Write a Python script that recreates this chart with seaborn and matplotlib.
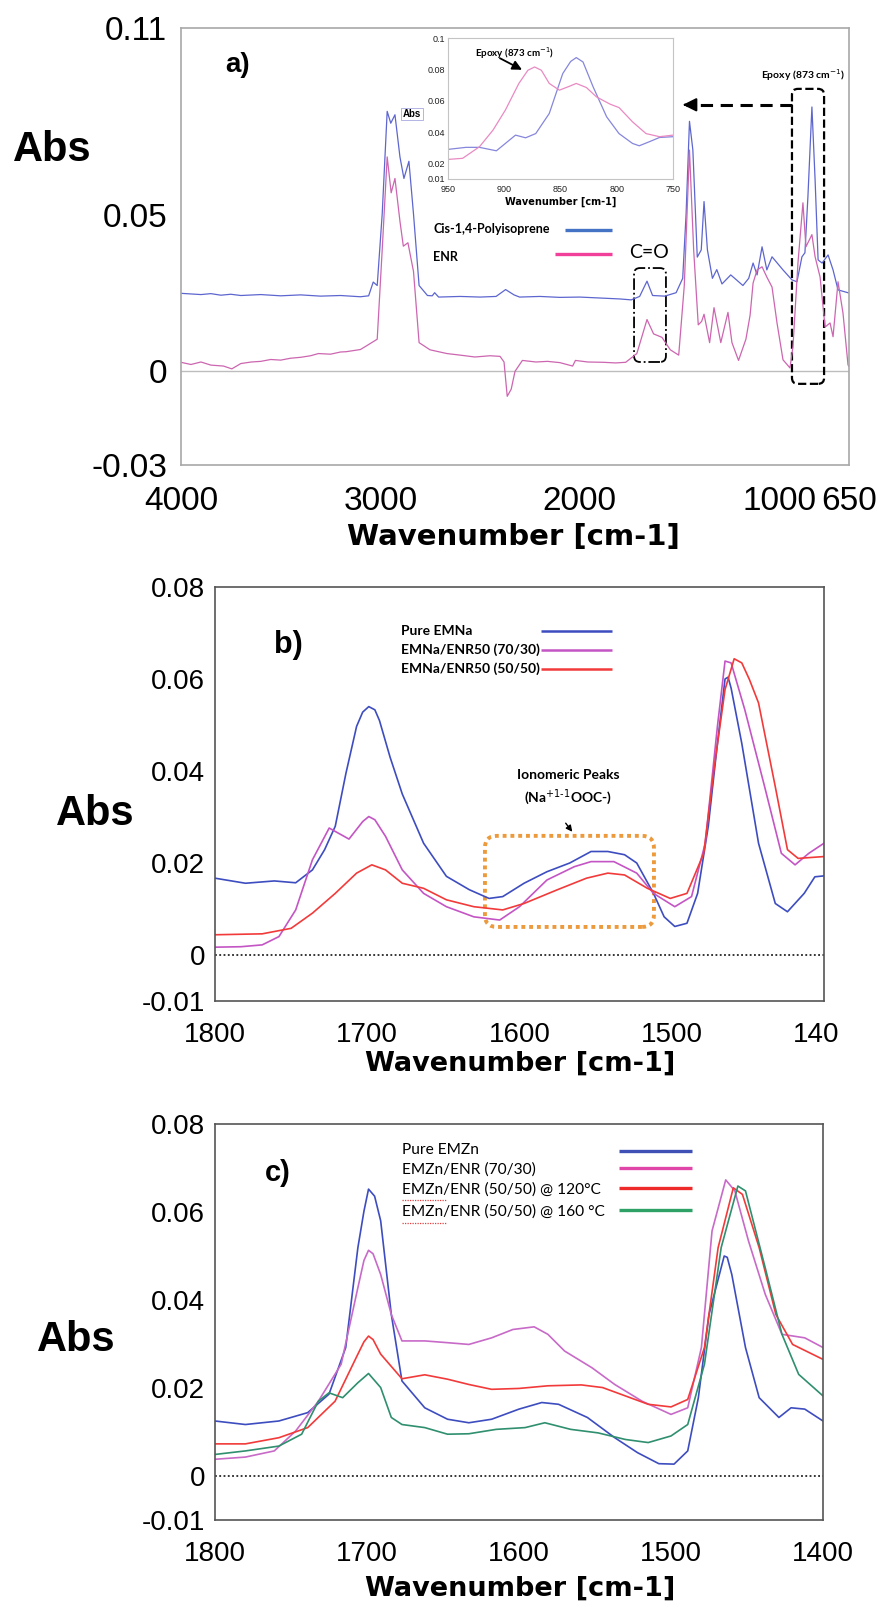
import numpy as np
import pandas as pd
import matplotlib
matplotlib.use("Agg")
import matplotlib.pyplot as plt
import matplotlib.transforms as mtransforms
import seaborn as sns
from matplotlib.lines import Line2D
from matplotlib.patches import FancyBboxPatch

W, H = 876, 1604

# ---------------- panel a : full spectra ----------------
a_wn_cis = [4000, 3900, 3850, 3800, 3750, 3700, 3600, 3500, 3400, 3300, 3200, 3100, 3059, 3036,
            3016, 2991, 2966, 2948, 2927, 2902, 2882, 2857, 2834, 2806, 2764, 2740, 2728, 2708,
            2600, 2500, 2420, 2372, 2330, 2302, 2200, 2100, 2000, 1900, 1800, 1742, 1700, 1663,
            1635, 1574, 1517, 1484, 1467, 1450, 1433, 1411, 1391, 1377, 1360, 1335, 1313, 1287,
            1243, 1182, 1153, 1131, 1111, 1086, 1062, 1036, 981, 936, 911, 886, 871, 856, 836,
            820, 805, 785, 755, 730, 705, 650]
a_abs_cis = [0.0250, 0.0246, 0.0249, 0.0244, 0.0247, 0.0243, 0.0246, 0.0242, 0.0245, 0.0241, 0.0243,
             0.0239, 0.0242, 0.0286, 0.0275, 0.0504, 0.0833, 0.0795, 0.0822, 0.0687, 0.0618, 0.0673,
             0.0504, 0.0275, 0.0243, 0.0242, 0.0252, 0.0238, 0.0240, 0.0238, 0.0240, 0.0262, 0.0245,
             0.0238, 0.0240, 0.0237, 0.0238, 0.0235, 0.0232, 0.0229, 0.0240, 0.0289, 0.0243, 0.0241,
             0.0252, 0.0298, 0.0504, 0.0801, 0.0709, 0.0366, 0.0389, 0.0544, 0.0389, 0.0298, 0.0326,
             0.0280, 0.0309, 0.0275, 0.0298, 0.0347, 0.0309, 0.0399, 0.0325, 0.0367, 0.0325, 0.0293,
             0.0287, 0.0367, 0.0380, 0.0560, 0.0847, 0.0613, 0.0357, 0.0347, 0.0373, 0.0325, 0.0261,
             0.0251]
a_wn_enr = [4000, 3950, 3900, 3850, 3787, 3745, 3700, 3647, 3600, 3550, 3500, 3451, 3400, 3350,
            3311, 3250, 3200, 3171, 3100, 3059, 3016, 2991, 2966, 2946, 2927, 2902, 2885, 2862,
            2834, 2806, 2751, 2666, 2600, 2526, 2450, 2400, 2380, 2364, 2344, 2325, 2288, 2220,
            2162, 2100, 2036, 2022, 1960, 1882, 1820, 1770, 1714, 1663, 1630, 1588, 1546, 1504,
            1476, 1450, 1429, 1406, 1389, 1377, 1349, 1327, 1293, 1257, 1237, 1204, 1167, 1146,
            1131, 1111, 1086, 1062, 1036, 1011, 981, 946, 931, 906, 881, 866, 856, 836, 820, 795,
            770, 745, 730, 705, 680, 655, 650]
a_abs_enr = [0.0029, 0.0022, 0.0030, 0.0020, 0.0017, 0.0008, 0.0025, 0.0030, 0.0032, 0.0038, 0.0036,
             0.0042, 0.0045, 0.0050, 0.0057, 0.0055, 0.0062, 0.0063, 0.0070, 0.0086, 0.0103, 0.0389,
             0.0687, 0.0572, 0.0618, 0.0481, 0.0401, 0.0412, 0.0320, 0.0092, 0.0069, 0.0057, 0.0052,
             0.0046, 0.0050, 0.0048, 0.0030, -0.0080, -0.0057, 0.0000, 0.0035, 0.0030, 0.0032, 0.0028,
             0.0017, 0.0035, 0.0030, 0.0029, 0.0027, 0.0029, 0.0057, 0.0166, 0.0120, 0.0109, 0.0069,
             0.0052, 0.0275, 0.0709, 0.0389, 0.0149, 0.0160, 0.0183, 0.0092, 0.0204, 0.0092, 0.0189,
             0.0092, 0.0035, 0.0103, 0.0180, 0.0283, 0.0325, 0.0335, 0.0302, 0.0270, 0.0155, 0.0037,
             0.0011, 0.0079, 0.0347, 0.0540, 0.0399, 0.0412, 0.0438, 0.0367, 0.0302, 0.0142, 0.0155,
             0.0111, 0.0287, 0.0186, 0.0021, 0.0015]

# inset (epoxy region)
in_wn_cis = [950, 934, 922, 907, 899, 890, 881, 872, 860, 848, 841, 836, 830, 821, 809, 798, 786,
             780, 771, 762, 750]
in_abs_cis = [0.0289, 0.0302, 0.0302, 0.0280, 0.0327, 0.0380, 0.0363, 0.0390, 0.0518, 0.0773, 0.0850,
              0.0875, 0.0847, 0.0688, 0.0497, 0.0390, 0.0327, 0.0312, 0.0338, 0.0365, 0.0370]
in_wn_enr = [950, 937, 922, 910, 899, 887, 879, 873, 867, 860, 851, 842, 836, 827, 818, 806, 798,
             786, 774, 762, 750]
in_abs_enr = [0.0225, 0.0232, 0.0306, 0.0412, 0.0540, 0.0710, 0.0794, 0.0815, 0.0794, 0.0710, 0.0667,
              0.0692, 0.0710, 0.0684, 0.0624, 0.0578, 0.0556, 0.0465, 0.0390, 0.0370, 0.0380]

# ---------------- panel b : EMNa ----------------
b_wn_pure = [1800, 1780, 1761, 1747, 1736, 1728, 1721, 1714, 1707, 1703, 1699, 1695, 1692, 1685,
             1677, 1663, 1648, 1633, 1620, 1611, 1597, 1582, 1567, 1553, 1542, 1531, 1523, 1512,
             1505, 1498, 1490, 1483, 1476, 1470, 1465, 1463, 1461, 1454, 1443, 1432, 1424, 1413,
             1406, 1400]
b_abs_pure = [0.0167, 0.0156, 0.0161, 0.0157, 0.0185, 0.0229, 0.0280, 0.0395, 0.0497, 0.0528, 0.0540,
              0.0533, 0.0510, 0.0430, 0.0350, 0.0243, 0.0171, 0.0142, 0.0123, 0.0127, 0.0156, 0.0181,
              0.0200, 0.0225, 0.0225, 0.0218, 0.0200, 0.0134, 0.0083, 0.0062, 0.0069, 0.0134, 0.0280,
              0.0460, 0.0600, 0.0604, 0.0580, 0.0460, 0.0243, 0.0112, 0.0094, 0.0134, 0.0170, 0.0172]
b_wn_7030 = [1800, 1783, 1769, 1758, 1747, 1736, 1725, 1712, 1703, 1699, 1695, 1688, 1677, 1663,
             1648, 1630, 1613, 1600, 1582, 1564, 1553, 1538, 1523, 1512, 1498, 1487, 1478, 1470,
             1465, 1461, 1452, 1439, 1428, 1419, 1410, 1400]
b_abs_7030 = [0.0017, 0.0018, 0.0022, 0.0040, 0.0098, 0.0207, 0.0276, 0.0252, 0.0290, 0.0301, 0.0294,
              0.0258, 0.0185, 0.0134, 0.0105, 0.0083, 0.0076, 0.0105, 0.0163, 0.0192, 0.0203, 0.0203,
              0.0178, 0.0134, 0.0105, 0.0127, 0.0243, 0.0497, 0.0639, 0.0635, 0.0533, 0.0366, 0.0221,
              0.0196, 0.0221, 0.0243]
b_wn_5050 = [1800, 1769, 1750, 1736, 1721, 1707, 1697, 1688, 1677, 1663, 1648, 1630, 1611, 1597,
             1575, 1556, 1542, 1531, 1516, 1501, 1490, 1479, 1472, 1465, 1459, 1454, 1449, 1443,
             1432, 1424, 1417, 1400]
b_abs_5050 = [0.0044, 0.0046, 0.0058, 0.0091, 0.0134, 0.0178, 0.0196, 0.0185, 0.0156, 0.0145, 0.0120,
              0.0105, 0.0098, 0.0112, 0.0142, 0.0167, 0.0178, 0.0174, 0.0145, 0.0123, 0.0134, 0.0221,
              0.0410, 0.0577, 0.0644, 0.0635, 0.0599, 0.0548, 0.0366, 0.0229, 0.0210, 0.0214]

# ---------------- panel c : EMZn ----------------
c_wn_pure = [1800, 1780, 1758, 1739, 1725, 1714, 1706, 1702, 1699, 1695, 1691, 1684, 1677, 1662,
             1647, 1633, 1618, 1600, 1585, 1574, 1555, 1537, 1522, 1508, 1498, 1489, 1482, 1475,
             1465, 1463, 1460, 1451, 1442, 1429, 1421, 1412, 1400]
c_abs_pure = [0.0125, 0.0117, 0.0125, 0.0144, 0.0186, 0.0292, 0.0519, 0.0602, 0.0652, 0.0636, 0.0580,
              0.0367, 0.0216, 0.0155, 0.0129, 0.0121, 0.0129, 0.0152, 0.0167, 0.0163, 0.0133, 0.0087,
              0.0053, 0.0028, 0.0027, 0.0057, 0.0178, 0.0367, 0.0500, 0.0497, 0.0458, 0.0292, 0.0178,
              0.0133, 0.0155, 0.0152, 0.0125]
c_wn_7030 = [1800, 1780, 1761, 1747, 1732, 1717, 1706, 1702, 1699, 1696, 1691, 1684, 1677, 1662,
             1647, 1633, 1618, 1604, 1590, 1581, 1570, 1552, 1537, 1519, 1500, 1489, 1480, 1473,
             1464, 1458, 1449, 1438, 1427, 1412, 1400]
c_abs_7030 = [0.0038, 0.0043, 0.0057, 0.0102, 0.0170, 0.0254, 0.0428, 0.0490, 0.0513, 0.0505, 0.0458,
              0.0367, 0.0307, 0.0307, 0.0303, 0.0299, 0.0314, 0.0333, 0.0339, 0.0322, 0.0284, 0.0246,
              0.0208, 0.0170, 0.0140, 0.0155, 0.0292, 0.0557, 0.0673, 0.0648, 0.0534, 0.0413, 0.0322,
              0.0314, 0.0292]
c_wn_120 = [1800, 1780, 1758, 1739, 1721, 1706, 1702, 1699, 1696, 1691, 1677, 1662, 1647, 1633,
            1618, 1600, 1581, 1559, 1545, 1530, 1515, 1500, 1489, 1478, 1469, 1459, 1453, 1442,
            1431, 1420, 1400]
c_abs_120 = [0.0073, 0.0073, 0.0087, 0.0110, 0.0170, 0.0277, 0.0305, 0.0318, 0.0310, 0.0277, 0.0221,
             0.0230, 0.0220, 0.0208, 0.0197, 0.0199, 0.0205, 0.0207, 0.0201, 0.0182, 0.0163, 0.0157,
             0.0174, 0.0292, 0.0519, 0.0655, 0.0640, 0.0519, 0.0367, 0.0299, 0.0265]
c_wn_160 = [1800, 1780, 1758, 1743, 1732, 1725, 1716, 1706, 1699, 1691, 1684, 1677, 1662, 1647,
            1633, 1615, 1596, 1583, 1566, 1548, 1530, 1515, 1500, 1489, 1478, 1467, 1456, 1451,
            1438, 1427, 1416, 1400]
c_abs_160 = [0.0049, 0.0057, 0.0068, 0.0095, 0.0170, 0.0189, 0.0178, 0.0212, 0.0233, 0.0201, 0.0133,
             0.0117, 0.0110, 0.0095, 0.0096, 0.0106, 0.0110, 0.0121, 0.0106, 0.0098, 0.0083, 0.0076,
             0.0091, 0.0117, 0.0254, 0.0519, 0.0659, 0.0648, 0.0473, 0.0322, 0.0231, 0.0182]


def long_df(series):
    frames = [pd.DataFrame({"wn": w, "abs": a, "series": name}) for name, w, a in series]
    return pd.concat(frames, ignore_index=True)


def rect(l, t, r, b):
    return [l / W, 1 - b / H, (r - l) / W, (b - t) / H]


def ftext(x, y, s, **kw):
    kw.setdefault("ha", "center")
    kw.setdefault("va", "center")
    kw.setdefault("color", "black")
    return fig.text(x / W, 1 - y / H, s, **kw)


def fline(x0, x1, y, color, lw=2.2, ls="-"):
    fig.add_artist(Line2D([x0 / W, x1 / W], [1 - y / H, 1 - y / H], transform=fig.transFigure,
                          color=color, lw=lw, ls=ls, solid_capstyle="butt"))


def hide_end_ticks(axis, values):
    for tick in axis.get_major_ticks():
        if np.isclose(tick.get_loc(), values).any():
            tick.tick1line.set_visible(False)
            tick.tick2line.set_visible(False)


def round_box(ax, x0, x1, y0, y1, r_px, xunit_px, yunit_px, **kw):
    # rounded rectangle in data coords, corners kept circular in pixels
    box = FancyBboxPatch((min(x0, x1), y0), abs(x1 - x0), y1 - y0,
                         boxstyle=f"round,pad=0,rounding_size={r_px * xunit_px}",
                         mutation_aspect=yunit_px / xunit_px, fill=False, **kw)
    ax.add_patch(box)


sns.set_style("white")
plt.rcParams["font.family"] = ["Liberation Sans", "DejaVu Sans"]
plt.rcParams["mathtext.fontset"] = "dejavusans"
plt.rcParams["text.color"] = "black"

fig = plt.figure(figsize=(W / 100, H / 100), dpi=100)
NARROW = ["Liberation Sans Narrow", "Liberation Sans"]
WAVE_FONT = ["DejaVu Sans"]
CAL = ["Lato", "Liberation Sans"]

# ================= panel a =================
ax = fig.add_axes(rect(181, 28, 849, 465))
df_a = long_df([("cis", a_wn_cis, a_abs_cis), ("enr", a_wn_enr, a_abs_enr)])
sns.lineplot(data=df_a, x="wn", y="abs", hue="series", palette={"cis": "#5d66cf", "enr": "#cc66b0"},
             linewidth=0.9, legend=False, ax=ax)
ax.axhline(0, color="#bdbdbd", lw=1.0, zorder=0)
ax.set_xlim(4000, 650)
ax.set_ylim(-0.03, 0.11)
ax.set_xticks([4000, 3000, 2000, 1000, 650])
ax.set_xticklabels(["4000", "3000", "2000", "1000", "650"])
ax.set_xticks([3500, 2500, 1500], minor=True)
ax.set_yticks([0.11, 0.1, 0.05, 0, -0.03])
ax.set_yticklabels(["0.11", "", "0.05", "0", "-0.03"])
ax.set_yticks([0.075, 0.025, -0.025], minor=True)
ax.set_xlabel("")
ax.set_ylabel("")
for sp in ax.spines.values():
    sp.set_color("#a8a8a8")
    sp.set_linewidth(1.2)
ax.tick_params(which="both", direction="in", color="#8a8a8a", width=1.1, top=False, right=False,
               labelcolor="black")
ax.tick_params(which="major", length=15)
ax.tick_params(which="minor", length=8.5)
ax.tick_params(axis="x", which="major", labelsize=24, pad=15)
ax.tick_params(axis="y", which="major", labelsize=24, pad=10)
for lbl in ax.get_xticklabels() + ax.get_yticklabels():
    lbl.set_fontfamily(NARROW)
hide_end_ticks(ax.xaxis, [4000, 650])
hide_end_ticks(ax.yaxis, [0.11, -0.03])

ftext(52, 150, "Abs", fontsize=30, fontweight="bold")
ftext(513, 537, "Wavenumber [cm-1]", fontsize=21, fontweight="bold", family=WAVE_FONT)
ftext(238, 65, "a)", fontsize=20, fontweight="bold")

# C=O and epoxy boxes
xu_a, yu_a = 3350 / 668, 0.14 / 437
round_box(ax, 1568, 1728, 0.003, 0.0331, 6, xu_a, yu_a, ls="-.", lw=1.3, ec="black")
round_box(ax, 775, 936, -0.004, 0.0905, 6, xu_a, yu_a, ls="--", lw=1.6, ec="black")
ftext(649, 252, "C=O", fontsize=14, family=CAL)
ftext(803, 75, "Epoxy (873 cm$^{-1}$)", fontsize=7.5, fontweight="bold", family=CAL)
ax.plot([936, 1465], [0.0854, 0.0854], color="black", ls=(0, (4, 2.5)), lw=2.2)
ax.annotate("", xy=(1497, 0.0854), xytext=(1455, 0.0854),
            arrowprops=dict(arrowstyle="-|>", color="black", lw=1.5, mutation_scale=20))

# legend a
ftext(433, 229, "Cis-1,4-Polyisoprene", fontsize=9, fontweight="bold", family=CAL, ha="left")
fline(565, 612, 230, "#4472c4", lw=2.4)
ftext(433, 257, "ENR", fontsize=9, fontweight="bold", family=CAL, ha="left")
fline(555, 612, 254, "#f0409a", lw=2.4)

# inset
axi = fig.add_axes(rect(448, 38, 673, 179))
df_in = long_df([("cis", in_wn_cis, in_abs_cis), ("enr", in_wn_enr, in_abs_enr)])
sns.lineplot(data=df_in, x="wn", y="abs", hue="series", palette={"cis": "#8686dc", "enr": "#e98ac2"},
             linewidth=0.9, legend=False, ax=axi)
axi.set_xlim(950, 750)
axi.set_ylim(0.01, 0.1)
axi.set_xticks([950, 900, 850, 800, 750])
axi.set_xticks([925, 875, 825, 775], minor=True)
axi.set_yticks([0.1, 0.08, 0.06, 0.04, 0.02, 0.01])
axi.set_yticklabels(["0.1", "0.08", "0.06", "0.04", "0.02", "0.01"])
axi.set_yticks([0.09, 0.07, 0.05, 0.03], minor=True)
axi.set_xlabel("")
axi.set_ylabel("")
for sp in axi.spines.values():
    sp.set_color("#c4c4c4")
    sp.set_linewidth(0.8)
axi.tick_params(which="both", direction="in", color="#b0b0b0", width=0.7, length=2.5,
                labelsize=6.5, labelcolor="#222222")
axi.tick_params(axis="x", pad=4)
axi.tick_params(axis="y", pad=2)
ftext(561, 202, "Wavenumber [cm-1]", fontsize=7, fontweight="bold", family=WAVE_FONT)
ftext(412, 114, "Abs", fontsize=7, fontweight="bold",
      bbox=dict(boxstyle="square,pad=0.15", fc="white", ec="#a8a8e0", lw=0.6))
ftext(514, 53, "Epoxy (873 cm$^{-1}$)", fontsize=7, fontweight="bold", family=CAL)
axi.annotate("", xy=(882, 0.0789), xytext=(906, 0.0879),
             arrowprops=dict(arrowstyle="-|>", color="black", lw=1.3, mutation_scale=14))


def style_panel(ax):
    ax.set_xlim(1800, 1400)
    ax.set_ylim(-0.01, 0.08)
    ax.axhline(0, color="black", ls=(0, (1.2, 1.6)), lw=1.1, zorder=0)
    ax.set_xticks([1800, 1700, 1600, 1500, 1400])
    ax.set_xticks([1750, 1650, 1550, 1450], minor=True)
    ax.set_yticks([0.08, 0.06, 0.04, 0.02, 0, -0.01])
    ax.set_yticklabels(["0.08", "0.06", "0.04", "0.02", "0", "-0.01"])
    ax.set_yticks([0.07, 0.05, 0.03, 0.01], minor=True)
    ax.set_xlabel("")
    ax.set_ylabel("")
    for sp in ax.spines.values():
        sp.set_color("#555555")
        sp.set_linewidth(1.2)
    ax.tick_params(which="both", direction="in", color="#555555", width=1.1, top=False, right=False,
                   labelcolor="black")
    ax.tick_params(which="major", length=13.5)
    ax.tick_params(which="minor", length=8.5)
    ax.tick_params(axis="x", which="major", labelsize=20, pad=15)
    ax.tick_params(axis="y", which="major", labelsize=20, pad=7)
    hide_end_ticks(ax.xaxis, [1800, 1400])
    hide_end_ticks(ax.yaxis, [0.08, -0.01])


# ================= panel b =================
axb = fig.add_axes(rect(215, 587, 824, 1001))
df_b = long_df([("pure", b_wn_pure, b_abs_pure), ("7030", b_wn_7030, b_abs_7030),
                ("5050", b_wn_5050, b_abs_5050)])
sns.lineplot(data=df_b, x="wn", y="abs", hue="series",
             palette={"pure": "#3d4dbf", "7030": "#c455c4", "5050": "#f23a3a"},
             linewidth=1.2, legend=False, ax=axb)
style_panel(axb)
axb.set_xticklabels(["1800", "1700", "1600", "1500", "140"])
# the last label is cut in the original; nudge it left like "1400" minus its last digit
last = axb.get_xticklabels()[-1]
last.set_transform(last.get_transform() + mtransforms.ScaledTranslation(-8 / 100, 0, fig.dpi_scale_trans))
ftext(95, 814, "Abs", fontsize=30, fontweight="bold")
ftext(520, 1064, "Wavenumber [cm-1]", fontsize=19.5, fontweight="bold", family=WAVE_FONT)
ftext(288, 645, "b)", fontsize=22, fontweight="bold")

leg_b = [("Pure EMNa", "#3d4dbf", 631), ("EMNa/ENR50 (70/30)", "#c455c4", 650),
         ("EMNa/ENR50 (50/50)", "#f23a3a", 669)]
for txt, col, y in leg_b:
    ftext(401, y, txt, fontsize=10, fontweight="bold", family=CAL, ha="left")
    fline(541, 612, y, col, lw=1.8)

ftext(568, 775, "Ionomeric Peaks", fontsize=10, fontweight="bold", family=CAL)
ftext(568, 797, "(Na$^{+1\\text{-}1}$OOC-)", fontsize=10, fontweight="bold", family=CAL)
axb.annotate("", xy=(574, H - 834), xytext=(564, H - 821), xycoords="figure pixels",
             arrowprops=dict(arrowstyle="-|>", color="black", lw=1.0, mutation_scale=9))
round_box(axb, 1511.7, 1622.7, 0.0061, 0.0259, 12, 400 / 609, 0.09 / 414,
          ls=(0, (1, 1)), lw=2.8, ec="#ec9a3c")

# ================= panel c =================
axc = fig.add_axes(rect(215, 1124, 823, 1520))
df_c = long_df([("pure", c_wn_pure, c_abs_pure), ("7030", c_wn_7030, c_abs_7030),
                ("120", c_wn_120, c_abs_120), ("160", c_wn_160, c_abs_160)])
sns.lineplot(data=df_c, x="wn", y="abs", hue="series",
             palette={"pure": "#3d4dbf", "7030": "#c86ac8", "120": "#f23a3a", "160": "#2f8f6e"},
             linewidth=1.2, legend=False, ax=axc)
style_panel(axc)
axc.set_xticklabels(["1800", "1700", "1600", "1500", "1400"])
ftext(76, 1340, "Abs", fontsize=30, fontweight="bold")
ftext(520, 1589, "Wavenumber [cm-1]", fontsize=19.5, fontweight="bold", family=WAVE_FONT)
ftext(278, 1173, "c)", fontsize=21, fontweight="bold")

leg_c = [("Pure EMZn", "#3f51b5", 1150, 1151), ("EMZn/ENR (70/30)", "#e046a8", 1170, 1168),
         ("EMZn/ENR (50/50) @ 120°C", "#ee2a2a", 1190, 1188),
         ("EMZn/ENR (50/50) @ 160 °C", "#2ea266", 1212, 1210)]
for txt, col, y, yl in leg_c:
    ftext(402, y, txt, fontsize=11.2, family=CAL, ha="left")
    fline(619, 692, yl, col, lw=2.4)
for y in (1200, 1223):
    fline(402, 446, y, "#e04040", lw=0.9, ls=(0, (1, 1)))

fig.savefig("out.png", dpi=100)
